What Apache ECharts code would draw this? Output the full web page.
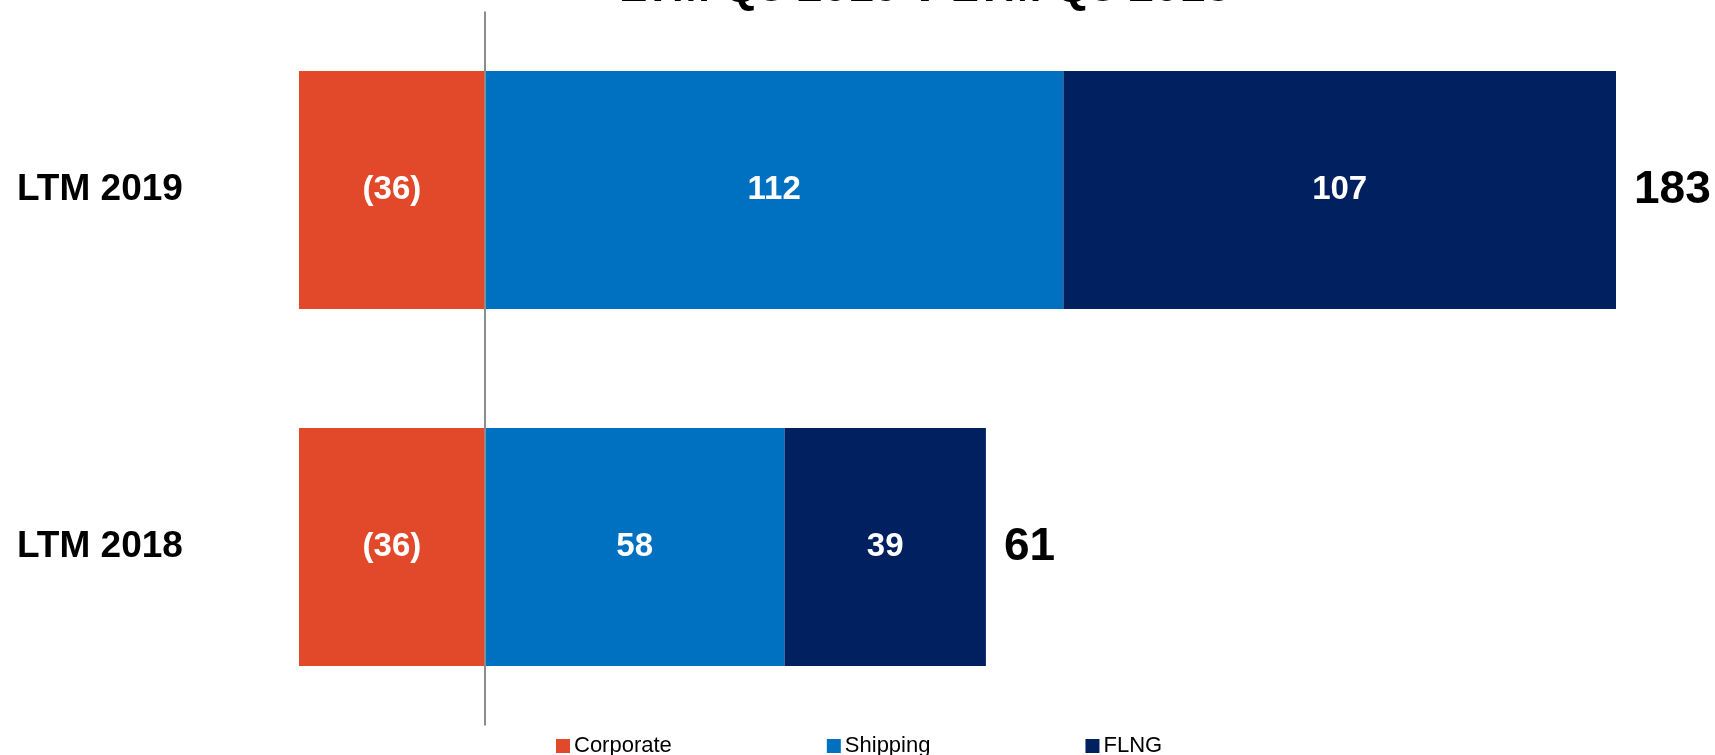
<!DOCTYPE html>
<html>
<head>
<meta charset="utf-8">
<script src="https://cdn.jsdelivr.net/npm/echarts@6/dist/echarts.min.js"></script>
<style>
html,body{margin:0;padding:0;background:#fff;}
#chart{width:1715px;height:755px;}
</style>
</head>
<body>
<div id="chart"></div>
<script>
const titleText = 'LTM Q3 2019 v LTM Q3 2018';
const categories = ['LTM 2019', 'LTM 2018'];
const corporate = [-36, -36];
const shipping = [112, 58];
const flng = [107, 39];
const totals = [183, 61];
const seriesNames = ['Corporate', 'Shipping', 'FLNG'];
const colors = ['#E2492B', '#0070C0', '#002060'];

const FONT = 'Liberation Sans';
const segLabel = {
  show: true,
  position: 'inside',
  color: '#fff',
  fontFamily: FONT,
  fontWeight: 'bold',
  fontSize: 33,
  formatter: p => p.value < 0 ? '(' + Math.abs(p.value) + ')' : String(p.value)
};

const chart = echarts.init(document.getElementById('chart'), null, {renderer: 'canvas'});
chart.setOption({
  animation: false,
  backgroundColor: '#fff',
  title: {
    text: titleText,
    left: 619,
    top: -35,
    padding: 0,
    textStyle: {fontFamily: FONT, fontWeight: 'bold', fontSize: 46, color: '#000'}
  },
  legend: {
    data: seriesNames,
    left: 556,
    top: 735,
    padding: 0,
    itemWidth: 14,
    itemHeight: 14,
    itemGap: 155,
    icon: 'rect',
    textStyle: {fontFamily: FONT, fontSize: 22, color: '#000', padding: [2, 0, 0, -1]}
  },
  grid: {left: 299, width: 1317, top: 11.5, height: 714, containLabel: false},
  xAxis: {
    type: 'value',
    min: -36,
    max: 219,
    show: false
  },
  yAxis: {
    type: 'category',
    data: categories,
    inverse: true,
    axisLine: {show: false, onZero: false},
    axisTick: {show: false},
    axisLabel: {
      margin: 282,
      align: 'left',
      fontFamily: FONT,
      fontWeight: 'bold',
      fontSize: 37,
      color: '#000'
    }
  },
  series: [
    {
      name: seriesNames[0], type: 'bar', stack: 'total', data: corporate,
      barCategoryGap: '33.3%', itemStyle: {color: colors[0]}, label: segLabel,
      markLine: {
        silent: true, symbol: 'none', animation: false,
        label: {show: false},
        lineStyle: {color: '#8c8c8c', width: 2, type: 'solid'},
        data: [{xAxis: 0}]
      }
    },
    {
      name: seriesNames[1], type: 'bar', stack: 'total', data: shipping,
      itemStyle: {color: colors[1]}, label: segLabel
    },
    {
      name: seriesNames[2], type: 'bar', stack: 'total', data: flng,
      itemStyle: {color: colors[2]}, label: segLabel
    },
    {
      name: 'Total', type: 'bar', stack: 'total', data: [0, 0],
      itemStyle: {color: 'transparent'},
      label: {
        show: true, position: 'right', distance: 18,
        color: '#000', fontFamily: FONT, fontWeight: 'bold', fontSize: 46,
        formatter: p => String(totals[p.dataIndex])
      }
    }
  ]
});
</script>
</body>
</html>
